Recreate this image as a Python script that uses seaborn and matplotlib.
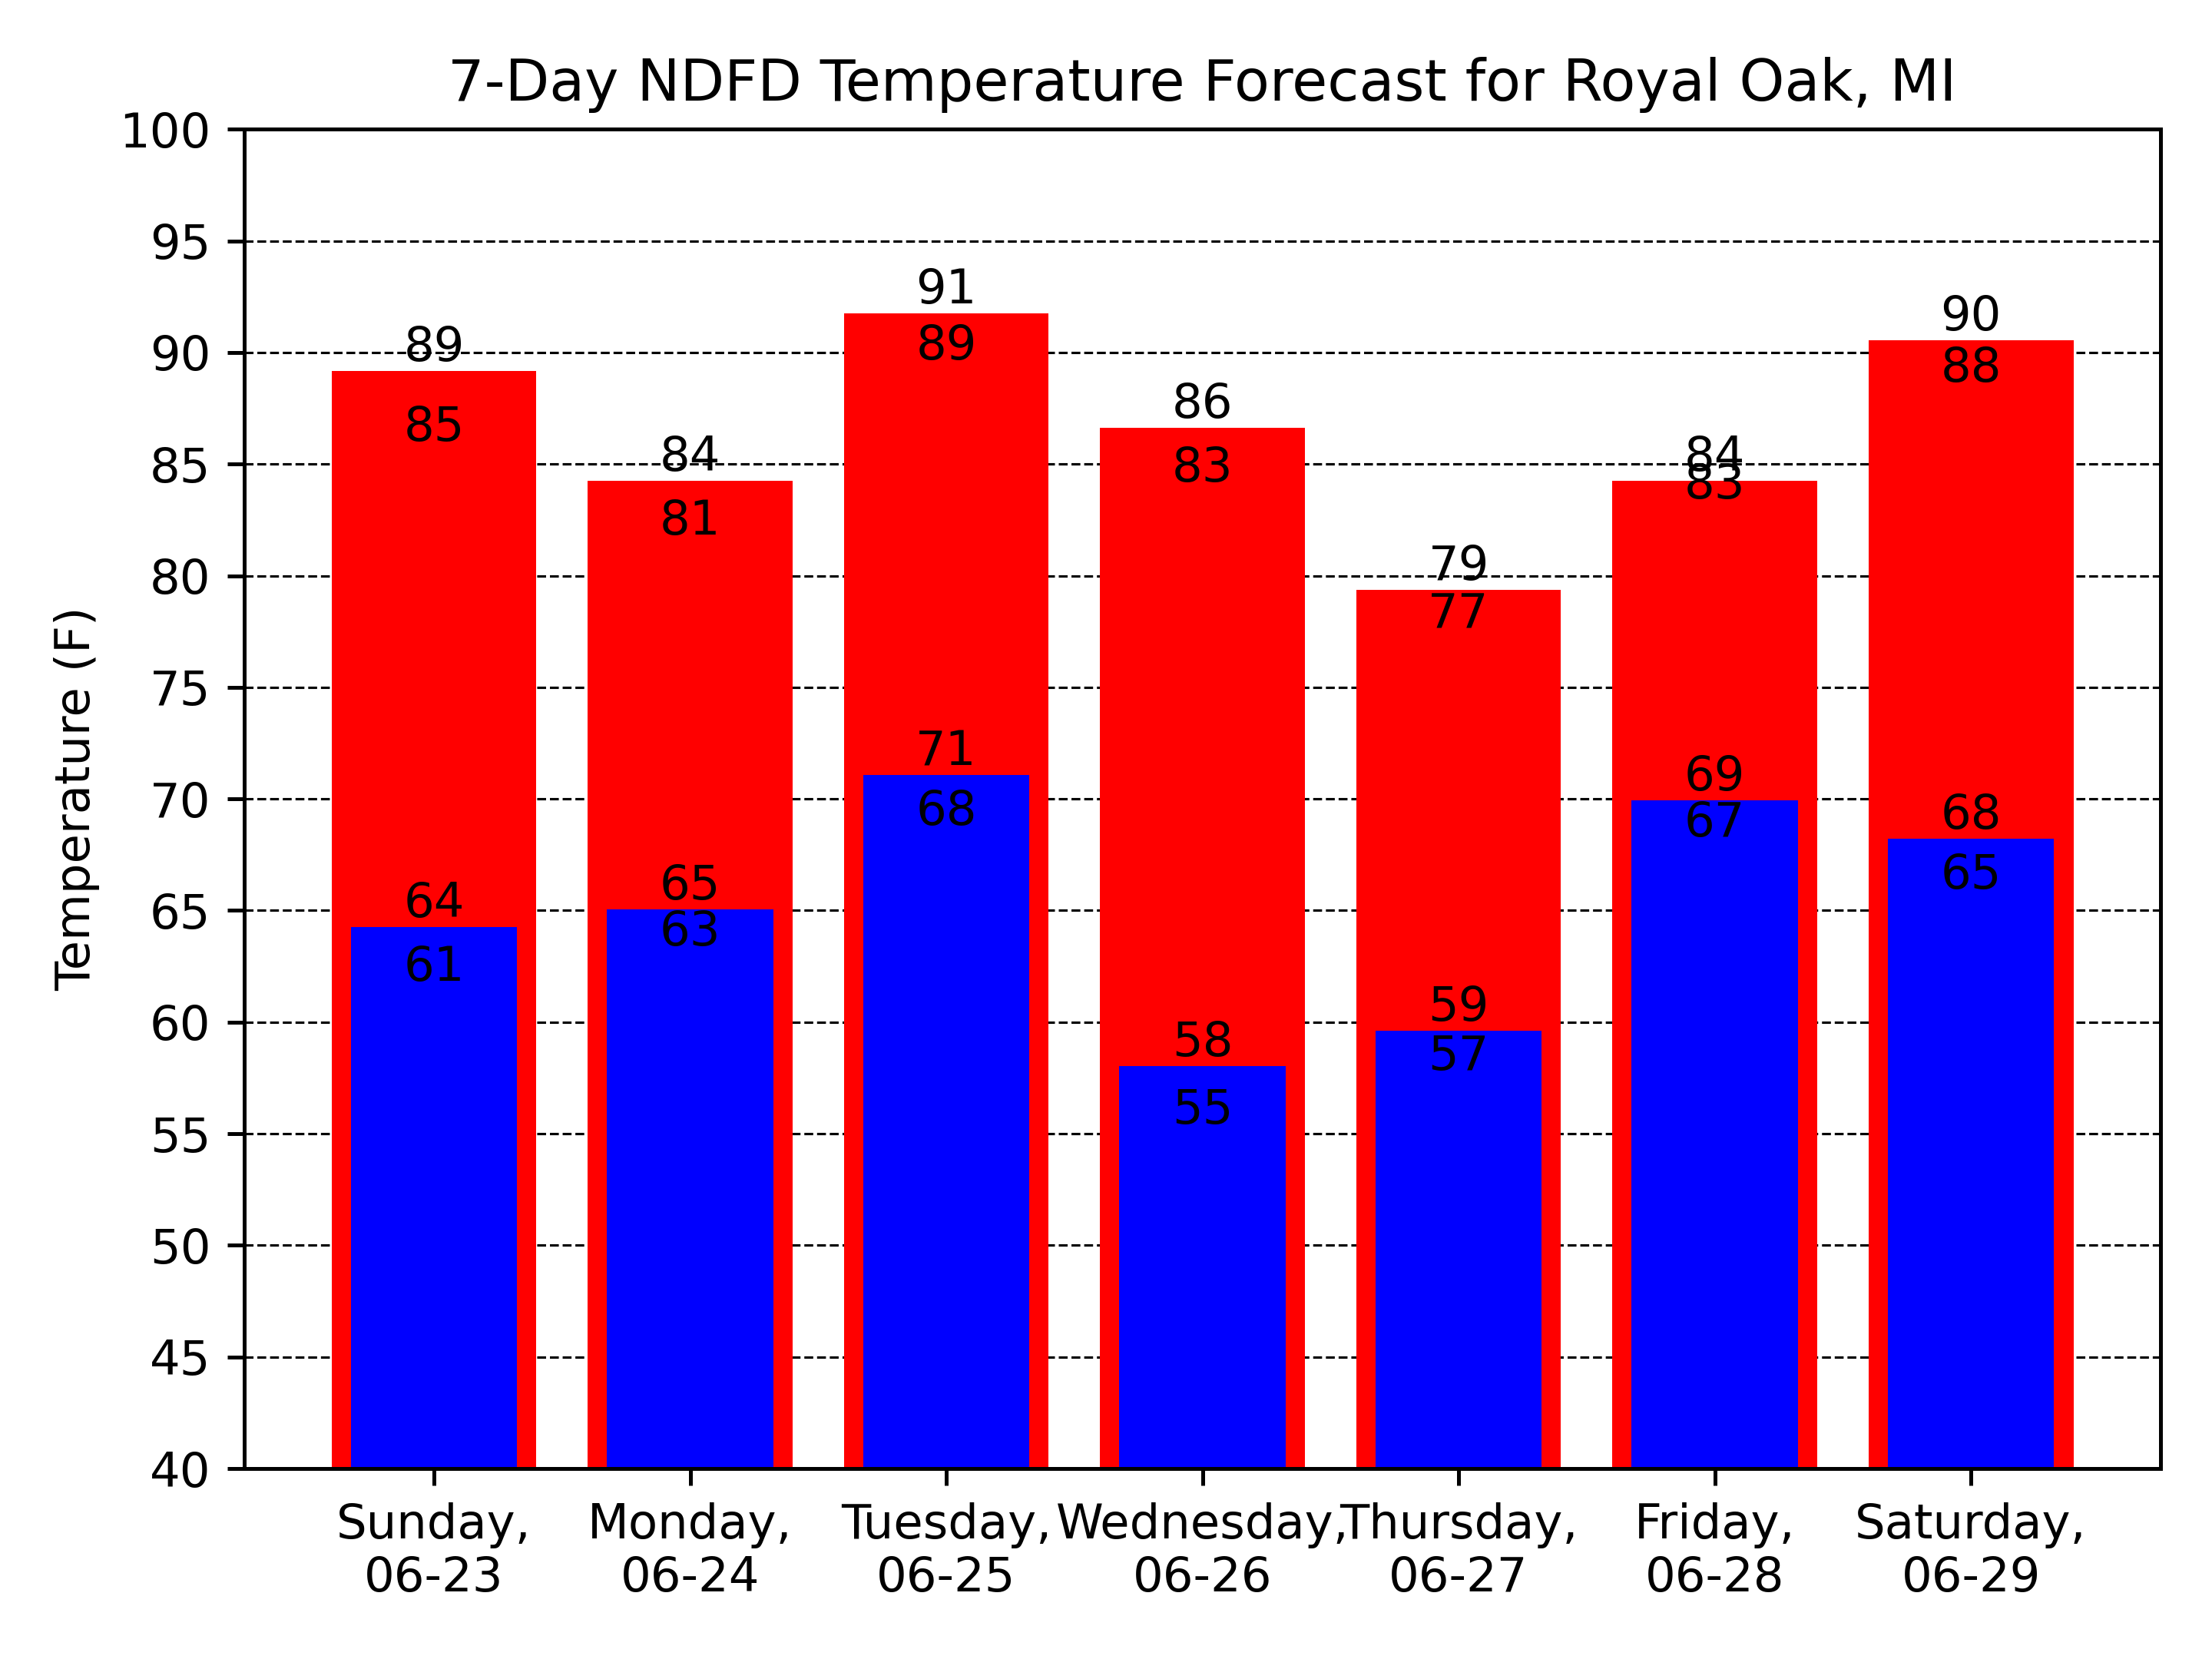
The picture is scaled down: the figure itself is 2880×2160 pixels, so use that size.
import matplotlib
matplotlib.use('Agg')
import matplotlib.pyplot as plt
import seaborn as sns
import numpy as np

# 日期标签
days = ['Sunday,\n06-23', 'Monday,\n06-24', 'Tuesday,\n06-25', 'Wednesday,\n06-26',
        'Thursday,\n06-27', 'Friday,\n06-28', 'Saturday,\n06-29']
# 最高温 (柱高) 与第二个标注值
max_temp = [89.18, 84.25, 91.75, 86.63, 79.37, 84.25, 90.55]
max_temp2 = [85.58, 81.40, 89.25, 83.78, 77.22, 83.02, 88.25]
# 最低温 (柱高) 与第二个标注值
min_temp = [64.26, 65.06, 71.07, 58.04, 59.63, 69.94, 68.22]
min_temp2 = [61.40, 63.00, 68.39, 55.00, 57.42, 67.86, 65.53]
yticks = list(range(40, 101, 5))

#   -- plot --
fig, ax = plt.subplots(figsize=(6.4, 4.8), dpi=450)
fig.subplots_adjust(left=0.1105, right=0.9767, top=0.9221, bottom=0.1148)  # 调整整体空白

sns.barplot(x=days, y=max_temp, color='red', saturation=1, width=0.8,
            errorbar=None, linewidth=0, ax=ax)
sns.barplot(x=days, y=min_temp, color='blue', saturation=1, width=0.65,
            errorbar=None, linewidth=0, ax=ax)

# 柱子上的数字
for i in range(len(days)):
    for v in (max_temp[i], max_temp2[i], min_temp[i], min_temp2[i]):
        ax.text(i, v, str(int(v)), ha='center', va='bottom', fontsize=10)

ax.set_ylim(40, 100)
ax.set_yticks(yticks)
ax.set_xlim(-0.74, 6.74)
ax.set_axisbelow(True)
ax.yaxis.grid(True, linestyle='--', color='black', linewidth=0.5)
ax.set_ylabel('Temperature (F)')
ax.set_xlabel('')
ax.set_title('7-Day NDFD Temperature Forecast for Royal Oak, MI')

fig.savefig('out.png', dpi=450)
